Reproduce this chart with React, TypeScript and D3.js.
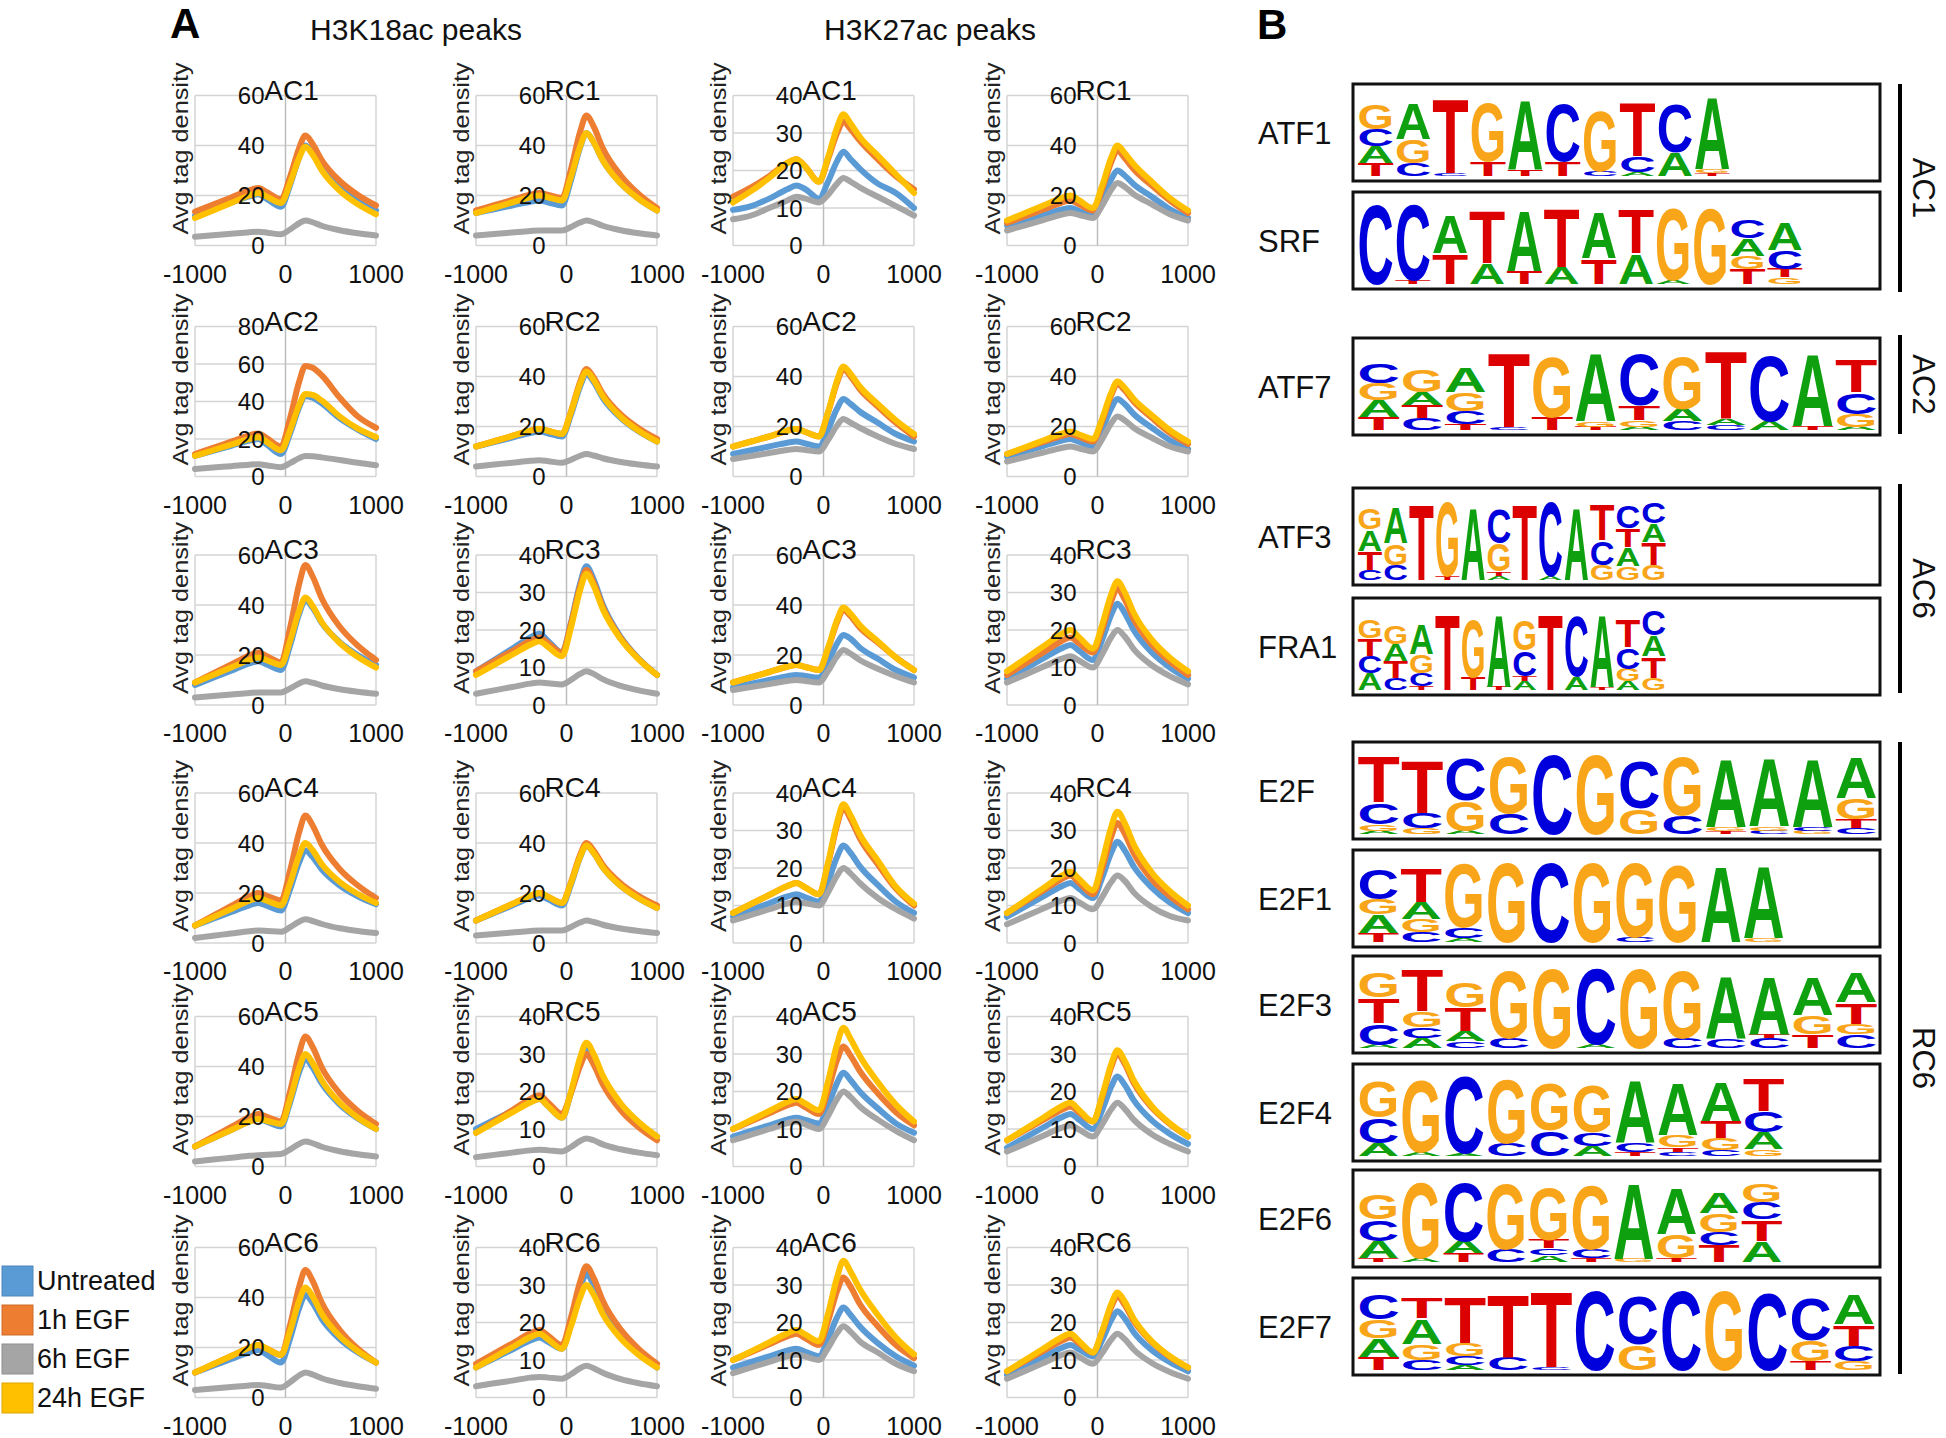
import React from "react";
import * as d3 from "d3";

// ---------------- DATA ----------------
const POSITIONS = [-1000, -800, -600, -400, -300, -200, -50, 50, 150, 220, 300, 400, 600, 800, 1000];
const SERIES_NAMES = ["Untreated", "1h EGF", "6h EGF", "24h EGF"];
const SERIES_COLORS = ["#5B9BD5", "#ED7D31", "#A5A5A5", "#FFC000"];
const X_TICKS = [-1000, 0, 1000];
const HEADERS = ["H3K18ac peaks", "H3K27ac peaks"];

// each panel: [Untreated, 1h EGF, 6h EGF, 24h EGF]
const K18_AC1 = [
  [12, 14.6, 17.1, 19.7, 20.5, 18.5, 15.5, 24.1, 35.1, 40, 36.9, 30.9, 23.1, 17.9, 14],
  [13.5, 16.4, 19.2, 22.1, 23, 21.2, 18.5, 27.4, 38.9, 44, 40.6, 34.2, 25.8, 20.2, 16],
  [3.5, 4.1, 4.7, 5.3, 5.5, 5.1, 4.5, 6.4, 8.9, 10, 9.3, 7.9, 6.1, 4.9, 4],
  [11, 14, 17, 20, 21, 19.4, 17, 24.9, 35, 39.5, 36.3, 30.1, 21.9, 16.5, 12.5],
];
const K18_AC2 = [
  [11, 13.7, 16.4, 19.1, 20, 16.8, 12, 22.9, 36.8, 43, 42, 39, 31, 25, 20],
  [12, 15.3, 18.6, 21.9, 23, 20.2, 16, 31, 50.4, 59, 58, 54, 42, 32, 26],
  [4, 4.8, 5.5, 6.3, 6.5, 5.9, 5, 7.1, 9.8, 11, 10.8, 10.2, 8.8, 7.3, 6],
  [11, 14, 17, 20, 21, 18.2, 14, 24.5, 38, 44, 43.5, 40.5, 32, 25.5, 21],
];
const K18_AC3 = [
  [8, 10.9, 13.7, 16.6, 17.5, 16.1, 14, 23.8, 36.4, 42, 38.9, 32.9, 25.1, 19.9, 16],
  [9, 12.6, 16.2, 19.8, 21, 19.4, 17, 30.7, 48.2, 56, 51.4, 42.7, 31.3, 23.7, 18],
  [3, 3.6, 4.2, 4.8, 5, 5, 5, 6.6, 8.6, 9.5, 8.9, 7.8, 6.3, 5.3, 4.5],
  [9, 12, 15, 18, 19, 17.8, 16, 25.5, 37.6, 43, 39.6, 33.2, 24.8, 19.2, 15],
];
const K18_AC4 = [
  [7, 9.7, 12.4, 15.1, 16, 14.8, 13, 21.4, 32.2, 37, 34.4, 29.5, 23, 18.7, 15.5],
  [7, 10.9, 14.8, 18.7, 20, 18.8, 17, 28.9, 44.2, 51, 47, 39.4, 29.5, 23, 18],
  [2, 2.9, 3.8, 4.7, 5, 4.8, 4.5, 6.3, 8.5, 9.5, 8.8, 7.6, 5.9, 4.8, 4],
  [7, 10.3, 13.6, 16.9, 18, 16.8, 15, 23.8, 35, 40, 37.1, 31.6, 24.4, 19.6, 16],
];
const K18_AC5 = [
  [8, 11.3, 14.6, 17.9, 19, 17.8, 16, 25.5, 37.6, 43, 39.6, 33.2, 24.8, 19.2, 15],
  [8, 11.9, 15.8, 19.7, 21, 19.8, 18, 29.9, 45.2, 52, 47.8, 39.7, 29.2, 22.2, 17],
  [2, 2.8, 3.5, 4.3, 4.5, 4.7, 5, 6.8, 9, 10, 9.3, 7.9, 6.1, 4.9, 4],
  [8, 11.3, 14.6, 17.9, 19, 18.2, 17, 26.8, 39.4, 45, 41.4, 34.5, 25.5, 19.5, 15],
];
const K18_AC6 = [
  [10, 12.7, 15.4, 18.1, 19, 17, 14, 23.5, 35.6, 41, 37.8, 31.5, 23.4, 18, 14],
  [10, 13.3, 16.6, 19.9, 21, 19.4, 17, 28.9, 44.2, 51, 46.6, 38, 27, 19.5, 14],
  [3, 3.6, 4.2, 4.8, 5, 4.6, 4, 6.1, 8.8, 10, 9.2, 7.7, 5.8, 4.5, 3.5],
  [10, 13.3, 16.6, 19.9, 21, 19.4, 17, 26.5, 38.6, 44, 40.4, 33.5, 24.5, 18.5, 14],
];
const K18_RC1 = [
  [13, 14.5, 16, 17.5, 18, 17.2, 16, 26.2, 39.2, 45, 41.3, 34.1, 24.8, 18.6, 14],
  [14, 16.1, 18.2, 20.3, 21, 20.2, 19, 30.6, 45.4, 52, 47.6, 39, 28, 20.5, 15],
  [4, 4.6, 5.2, 5.8, 6, 6, 6, 7.4, 9.2, 10, 9.3, 7.9, 6.1, 4.9, 4],
  [13, 15.1, 17.2, 19.3, 20, 19.2, 18, 27.5, 39.6, 45, 41.3, 34.1, 24.8, 18.6, 14],
];
const K18_RC2 = [
  [12, 13.8, 15.6, 17.4, 18, 17.2, 16, 24.8, 36, 41, 37.8, 31.5, 23.4, 18, 14],
  [12, 14.1, 16.2, 18.3, 19, 18.2, 17, 26.1, 37.8, 43, 39.6, 33.2, 24.8, 19.2, 15],
  [4, 4.8, 5.5, 6.3, 6.5, 6.1, 5.5, 6.7, 8.3, 9, 8.4, 7.3, 5.8, 4.8, 4],
  [12, 14.1, 16.2, 18.3, 19, 18.2, 17, 25.8, 37, 42, 38.6, 32.2, 23.8, 18.2, 14],
];
const K18_RC3 = [
  [9, 12, 15, 18, 19, 17, 14, 22, 32.4, 37, 33.5, 26.8, 18.1, 12.3, 8],
  [9, 11.7, 14.4, 17.1, 18, 16.4, 14, 21.7, 31.6, 36, 32.6, 26.2, 17.8, 12.2, 8],
  [3, 3.9, 4.8, 5.7, 6, 5.8, 5.5, 6.7, 8.3, 9, 8.3, 6.9, 5.1, 3.9, 3],
  [8, 10.7, 13.4, 16.1, 17, 15.4, 13, 20.7, 30.6, 35, 31.8, 25.6, 17.5, 12.1, 8],
];
const K18_RC4 = [
  [9, 12, 15, 18, 19, 17.4, 15, 23.4, 34.2, 39, 36, 30.3, 22.8, 17.8, 14],
  [9, 12.3, 15.6, 18.9, 20, 18.4, 16, 24.4, 35.2, 40, 37, 31.3, 23.8, 18.8, 15],
  [3, 3.6, 4.2, 4.8, 5, 5, 5, 6.4, 8.2, 9, 8.4, 7.3, 5.8, 4.8, 4],
  [9, 12.3, 15.6, 18.9, 20, 18.4, 16, 24.1, 34.4, 39, 36, 30.3, 22.8, 17.8, 14],
];
const K18_RC5 = [
  [10, 12.4, 14.8, 17.2, 18, 16, 13, 19.7, 28.2, 32, 29.1, 23.6, 16.4, 11.6, 8],
  [9, 12, 15, 18, 19, 17, 14, 19.6, 26.8, 30, 27.2, 22, 15, 10.4, 7],
  [2.5, 3.1, 3.7, 4.3, 4.5, 4.3, 4, 5.2, 6.8, 7.5, 7, 5.9, 4.6, 3.7, 3],
  [9, 11.7, 14.4, 17.1, 18, 16, 13, 20, 29, 33, 30, 24.3, 16.8, 11.8, 8],
];
const K18_RC6 = [
  [8, 10.4, 12.8, 15.2, 16, 14.8, 13, 20, 29, 33, 30, 24.3, 16.8, 11.8, 8],
  [9, 11.7, 14.4, 17.1, 18, 16.4, 14, 21.4, 30.8, 35, 31.9, 25.9, 18.1, 12.9, 9],
  [3, 3.8, 4.5, 5.3, 5.5, 5.3, 5, 6.2, 7.8, 8.5, 7.8, 6.6, 4.9, 3.8, 3],
  [8, 10.7, 13.4, 16.1, 17, 15.4, 13, 19, 26.6, 30, 27.4, 22.3, 15.7, 11.3, 8],
];
const K27_AC1 = [
  [9.5, 10.5, 12.5, 15, 16, 15, 12.5, 17, 22.5, 25, 23, 20.5, 16.5, 14, 10],
  [13, 15.5, 18.5, 22, 23, 21, 17, 23, 30, 33, 31, 28, 23, 18.5, 15],
  [7, 8, 10, 12, 13, 12.5, 11.5, 13.5, 16.5, 18, 17, 15.5, 13, 10.5, 8],
  [11.5, 14.5, 18, 22, 23, 21, 17, 23.5, 31.5, 35, 32.5, 29, 24, 19, 14],
];
const K27_AC2 = [
  [9, 10.5, 12, 13.5, 14, 13.2, 12, 18.7, 27.2, 31, 29, 26, 21.5, 17, 14],
  [12, 14, 16, 18.3, 19, 17.8, 16, 25.5, 37.6, 43, 40, 35, 28, 21.5, 16],
  [7, 8.2, 9.4, 10.6, 11, 10.6, 10, 14.6, 20.4, 23, 21.5, 19.5, 16, 13, 11],
  [12, 14, 16, 18.3, 19, 17.8, 16, 25.8, 38.4, 44, 41, 36, 29, 22.5, 17],
];
const K27_AC3 = [
  [7, 8.5, 10, 11.5, 12, 11.6, 11, 17, 24.6, 28, 26.5, 23, 18.5, 14, 11],
  [9, 11.1, 13.2, 15.3, 16, 15.2, 14, 22.4, 33.2, 38, 35.5, 31, 25, 19, 14],
  [6, 7.2, 8.4, 9.6, 10, 9.6, 9, 13.6, 19.4, 22, 20.5, 18, 14.5, 11.5, 9],
  [9, 11.1, 13.2, 15.3, 16, 15.2, 14, 22.8, 34, 39, 36.5, 32, 25.5, 19, 14],
];
const K27_AC4 = [
  [7, 8.8, 10.6, 12.4, 13, 12.2, 11, 16.3, 23, 26, 24, 20.5, 15.5, 11, 8],
  [8, 10.4, 12.8, 15.2, 16, 14.8, 13, 21, 31.4, 36, 33, 28, 21, 14.5, 10],
  [6, 7.5, 9, 10.5, 11, 10.6, 10, 13.5, 18, 20, 18.5, 16, 12, 9, 6.5],
  [8, 10.4, 12.8, 15.2, 16, 14.8, 13, 21.4, 32.2, 37, 34, 29, 22, 15, 10.5],
];
const K27_AC5 = [
  [8, 9.5, 11, 12.5, 13, 12.4, 11.5, 16.2, 22.3, 25, 23, 20, 15.5, 11.5, 9],
  [10, 12.1, 14.2, 16.3, 17, 15.8, 14, 20.3, 28.4, 32, 29.5, 25.5, 19.5, 14.5, 11],
  [7, 8.5, 10, 11.5, 12, 11.2, 10, 13.5, 18, 20, 18.5, 16, 12.5, 9.5, 7],
  [10, 12.4, 14.8, 17.2, 18, 16.8, 15, 22.7, 32.6, 37, 34, 29.5, 22.5, 16.5, 12],
];
const K27_AC6 = [
  [8, 9.5, 11, 12.5, 13, 12.2, 11, 15.6, 21.4, 24, 22, 19, 14.5, 11, 8.5],
  [10, 12.1, 14.2, 16.3, 17, 15.8, 14, 20.3, 28.4, 32, 29.5, 25, 19, 14, 10.5],
  [6.5, 8, 9.5, 11, 11.5, 10.9, 10, 13.2, 17.2, 19, 17.5, 15, 12, 9, 7],
  [10, 12.3, 14.7, 17.1, 18, 16.8, 15, 22.4, 32, 36.5, 33.5, 29, 22, 16, 11.5],
];
const K27_RC1 = [
  [8, 10.1, 12.2, 14.3, 15, 13.8, 12, 18.3, 26.4, 30, 28, 24.5, 19.5, 14.5, 11],
  [9, 11.7, 14.4, 17.1, 18, 16.4, 14, 22.4, 33.2, 38, 35, 30.5, 24, 18, 13],
  [6, 8.1, 10.2, 12.3, 13, 12.2, 11, 15.9, 22.2, 25, 23.5, 20.5, 16.5, 12.5, 10],
  [10, 13, 16, 19, 20, 18, 15, 23.8, 35, 40, 37, 32.5, 25.5, 19, 14],
];
const K27_RC2 = [
  [8, 10.1, 12.2, 14.3, 15, 13.8, 12, 18.7, 27.2, 31, 29, 25, 19.5, 14.5, 11],
  [9, 11.4, 13.8, 16.2, 17, 15.8, 14, 22, 32.4, 37, 34.5, 30, 23.5, 17.5, 13],
  [6, 7.8, 9.6, 11.4, 12, 11.2, 10, 14.9, 21.2, 24, 22.5, 19.5, 15.5, 12, 10],
  [9, 11.7, 14.4, 17.1, 18, 16.8, 15, 23, 33.4, 38, 35.5, 31, 24.5, 18.5, 14],
];
const K27_RC3 = [
  [7, 9.7, 12.4, 15.1, 16, 14.4, 12, 17.3, 24, 27, 24.6, 20, 14, 10, 7],
  [8, 11, 14, 17, 18, 16.4, 14, 20, 27.6, 31, 28.2, 22.9, 16.1, 11.6, 8],
  [6, 8.1, 10.2, 12.3, 13, 11.8, 10, 13.5, 18, 20, 18.3, 14.9, 10.6, 7.7, 5.5],
  [9, 12.3, 15.6, 18.9, 20, 18, 15, 21.3, 29.4, 33, 30.1, 24.6, 17.4, 12.6, 9],
];
const K27_RC4 = [
  [7, 9.7, 12.4, 15.1, 16, 14.4, 12, 17.3, 24, 27, 24.7, 20.4, 14.8, 10.8, 8],
  [8, 11, 14, 17, 18, 16, 13, 19.7, 28.2, 32, 29.2, 24, 17, 12.5, 9],
  [5, 7.1, 9.2, 11.3, 12, 10.8, 9, 12.2, 16.2, 18, 16.6, 13.5, 9.6, 7.2, 6],
  [8, 11.3, 14.6, 17.9, 19, 17, 14, 21.4, 30.8, 35, 32, 26.3, 18.8, 13.8, 10],
];
const K27_RC5 = [
  [5, 7.7, 10.4, 13.1, 14, 12.4, 10, 14.9, 21.2, 24, 21.8, 17.7, 12.3, 8.7, 6],
  [7, 9.7, 12.4, 15.1, 16, 14.4, 12, 18.3, 26.4, 30, 27.4, 22.3, 15.7, 11.3, 8],
  [4, 6.1, 8.2, 10.3, 11, 9.8, 8, 11.2, 15.2, 17, 15.4, 12.5, 8.6, 6, 4],
  [7, 10, 13, 16, 17, 15, 12, 18.7, 27.2, 31, 28.2, 23, 16.1, 11.5, 8],
];
const K27_RC6 = [
  [6, 8.4, 10.8, 13.2, 14, 12.8, 11, 15.2, 20.6, 23, 21.1, 17.4, 12.6, 9.4, 7],
  [7, 9.7, 12.4, 15.1, 16, 14.4, 12, 17.3, 24, 27, 24.7, 20.4, 14.8, 10.8, 8],
  [5, 7.1, 9.2, 11.3, 12, 10.8, 9, 11.8, 15.4, 17, 15.6, 12.8, 9.2, 6.8, 5],
  [7, 10, 13, 16, 17, 15, 12, 17.6, 24.8, 28, 25.6, 21, 15, 11, 8],
];

const PANEL_DATA = [
  [K18_AC1, K18_RC1, K27_AC1, K27_RC1],
  [K18_AC2, K18_RC2, K27_AC2, K27_RC2],
  [K18_AC3, K18_RC3, K27_AC3, K27_RC3],
  [K18_AC4, K18_RC4, K27_AC4, K27_RC4],
  [K18_AC5, K18_RC5, K27_AC5, K27_RC5],
  [K18_AC6, K18_RC6, K27_AC6, K27_RC6],
];
const PANEL_TITLES = [
  ["AC1", "RC1", "AC1", "RC1"],
  ["AC2", "RC2", "AC2", "RC2"],
  ["AC3", "RC3", "AC3", "RC3"],
  ["AC4", "RC4", "AC4", "RC4"],
  ["AC5", "RC5", "AC5", "RC5"],
  ["AC6", "RC6", "AC6", "RC6"],
];
const Y_MAX = [
  [60, 60, 40, 60],
  [80, 60, 60, 60],
  [60, 40, 60, 40],
  [60, 60, 40, 40],
  [60, 40, 40, 40],
  [60, 40, 40, 40],
];

// Motif logos: per position, stacked letters bottom -> top with relative height
type Stack = [string, number][];
const ATF1: Stack[] = [
  [["T", 0.15], ["A", 0.2], ["C", 0.2], ["G", 0.3]],
  [["C", 0.15], ["G", 0.28], ["A", 0.42]],
  [["C", 0.03], ["T", 0.88]],
  [["T", 0.17], ["G", 0.7]],
  [["T", 0.08], ["A", 0.82]],
  [["T", 0.17], ["C", 0.68]],
  [["C", 0.06], ["G", 0.72]],
  [["A", 0.05], ["C", 0.18], ["T", 0.64]],
  [["A", 0.28], ["C", 0.58]],
  [["T", 0.03], ["G", 0.05], ["A", 0.85]],
];
const SRF: Stack[] = [
  [["C", 0.95]],
  [["T", 0.05], ["C", 0.9]],
  [["T", 0.36], ["A", 0.45]],
  [["A", 0.25], ["T", 0.62]],
  [["T", 0.15], ["A", 0.72]],
  [["A", 0.2], ["T", 0.7]],
  [["T", 0.3], ["A", 0.55]],
  [["A", 0.36], ["T", 0.52]],
  [["A", 0.05], ["G", 0.85]],
  [["G", 0.9]],
  [["T", 0.18], ["G", 0.15], ["A", 0.2], ["C", 0.22]],
  [["G", 0.08], ["T", 0.1], ["C", 0.22], ["A", 0.32]],
];
const ATF7: Stack[] = [
  [["T", 0.15], ["A", 0.2], ["G", 0.2], ["C", 0.23]],
  [["C", 0.14], ["T", 0.15], ["A", 0.15], ["G", 0.26]],
  [["T", 0.07], ["C", 0.15], ["G", 0.22], ["A", 0.3]],
  [["C", 0.03], ["T", 0.88]],
  [["T", 0.15], ["G", 0.72]],
  [["T", 0.04], ["G", 0.06], ["A", 0.8]],
  [["A", 0.04], ["G", 0.08], ["T", 0.17], ["C", 0.6]],
  [["C", 0.1], ["A", 0.15], ["G", 0.62]],
  [["C", 0.06], ["A", 0.07], ["T", 0.8]],
  [["A", 0.1], ["C", 0.78]],
  [["T", 0.05], ["A", 0.85]],
  [["A", 0.04], ["G", 0.15], ["C", 0.25], ["T", 0.38]],
];
const ATF3: Stack[] = [
  [["C", 0.12], ["T", 0.22], ["A", 0.25], ["G", 0.25]],
  [["C", 0.18], ["G", 0.25], ["A", 0.42]],
  [["T", 0.9]],
  [["T", 0.05], ["G", 0.88]],
  [["A", 0.85]],
  [["A", 0.05], ["T", 0.05], ["G", 0.33], ["C", 0.4]],
  [["T", 0.9]],
  [["A", 0.05], ["C", 0.88]],
  [["A", 0.85]],
  [["G", 0.18], ["C", 0.28], ["T", 0.42]],
  [["G", 0.16], ["A", 0.22], ["T", 0.22], ["C", 0.26]],
  [["G", 0.18], ["T", 0.26], ["A", 0.22], ["C", 0.25]],
];
const FRA1: Stack[] = [
  [["A", 0.2], ["C", 0.2], ["T", 0.2], ["G", 0.22]],
  [["C", 0.14], ["T", 0.2], ["A", 0.2], ["G", 0.22]],
  [["T", 0.05], ["C", 0.15], ["G", 0.22], ["A", 0.35]],
  [["T", 0.9]],
  [["T", 0.15], ["G", 0.68]],
  [["T", 0.04], ["A", 0.86]],
  [["A", 0.1], ["T", 0.06], ["C", 0.3], ["G", 0.36]],
  [["T", 0.9]],
  [["A", 0.16], ["C", 0.72]],
  [["T", 0.03], ["A", 0.85]],
  [["A", 0.1], ["G", 0.15], ["C", 0.25], ["T", 0.32]],
  [["G", 0.14], ["T", 0.25], ["A", 0.25], ["C", 0.3]],
];
const E2F: Stack[] = [
  [["A", 0.04], ["G", 0.08], ["C", 0.25], ["T", 0.55]],
  [["G", 0.07], ["C", 0.18], ["T", 0.62]],
  [["A", 0.04], ["G", 0.36], ["C", 0.5]],
  [["C", 0.25], ["G", 0.66]],
  [["C", 0.95]],
  [["G", 0.95]],
  [["G", 0.3], ["C", 0.56]],
  [["C", 0.22], ["G", 0.7]],
  [["T", 0.03], ["G", 0.05], ["A", 0.8]],
  [["C", 0.04], ["G", 0.05], ["A", 0.8]],
  [["G", 0.04], ["C", 0.04], ["A", 0.8]],
  [["C", 0.07], ["T", 0.1], ["G", 0.25], ["A", 0.48]],
];
const E2F1: Stack[] = [
  [["T", 0.1], ["A", 0.22], ["G", 0.18], ["C", 0.35]],
  [["C", 0.12], ["G", 0.15], ["A", 0.2], ["T", 0.4]],
  [["A", 0.05], ["C", 0.12], ["G", 0.76]],
  [["G", 0.95]],
  [["C", 0.95]],
  [["G", 0.95]],
  [["C", 0.06], ["G", 0.88]],
  [["G", 0.92]],
  [["A", 0.9]],
  [["G", 0.05], ["A", 0.85]],
];
const E2F3: Stack[] = [
  [["A", 0.04], ["C", 0.25], ["T", 0.3], ["G", 0.3]],
  [["A", 0.12], ["C", 0.13], ["G", 0.18], ["T", 0.5]],
  [["C", 0.08], ["A", 0.12], ["T", 0.28], ["G", 0.3]],
  [["C", 0.12], ["G", 0.8]],
  [["G", 0.95]],
  [["A", 0.05], ["C", 0.9]],
  [["G", 0.95]],
  [["C", 0.12], ["G", 0.8]],
  [["C", 0.1], ["A", 0.75]],
  [["C", 0.12], ["T", 0.04], ["A", 0.68]],
  [["T", 0.16], ["G", 0.22], ["A", 0.45]],
  [["C", 0.16], ["G", 0.12], ["T", 0.25], ["A", 0.35]],
];
const E2F4: Stack[] = [
  [["A", 0.15], ["C", 0.3], ["G", 0.42]],
  [["A", 0.05], ["G", 0.86]],
  [["A", 0.03], ["C", 0.92]],
  [["C", 0.15], ["G", 0.76]],
  [["C", 0.3], ["G", 0.56]],
  [["A", 0.12], ["C", 0.16], ["G", 0.56]],
  [["T", 0.05], ["C", 0.1], ["A", 0.75]],
  [["C", 0.05], ["T", 0.05], ["G", 0.14], ["A", 0.62]],
  [["C", 0.07], ["G", 0.14], ["T", 0.2], ["A", 0.47]],
  [["G", 0.08], ["A", 0.2], ["C", 0.24], ["T", 0.38]],
];
const E2F6: Stack[] = [
  [["T", 0.05], ["A", 0.2], ["C", 0.25], ["G", 0.3]],
  [["A", 0.05], ["G", 0.9]],
  [["T", 0.1], ["A", 0.15], ["C", 0.7]],
  [["C", 0.15], ["G", 0.78]],
  [["A", 0.08], ["C", 0.08], ["T", 0.1], ["G", 0.62]],
  [["T", 0.05], ["C", 0.1], ["G", 0.76]],
  [["G", 0.04], ["A", 0.9]],
  [["T", 0.05], ["G", 0.28], ["A", 0.55]],
  [["T", 0.2], ["C", 0.15], ["G", 0.22], ["A", 0.25]],
  [["A", 0.25], ["T", 0.25], ["C", 0.2], ["G", 0.22]],
];
const E2F7: Stack[] = [
  [["T", 0.15], ["A", 0.22], ["G", 0.22], ["C", 0.3]],
  [["C", 0.12], ["G", 0.18], ["A", 0.3], ["T", 0.25]],
  [["A", 0.06], ["C", 0.1], ["G", 0.15], ["T", 0.55]],
  [["C", 0.15], ["T", 0.75]],
  [["C", 0.03], ["T", 0.9]],
  [["C", 0.95]],
  [["G", 0.3], ["C", 0.58]],
  [["C", 0.95]],
  [["G", 0.95]],
  [["C", 0.92]],
  [["T", 0.1], ["G", 0.25], ["C", 0.5]],
  [["G", 0.1], ["C", 0.18], ["T", 0.25], ["A", 0.35]],
];

const MOTIF_NAMES = ["ATF1", "SRF", "ATF7", "ATF3", "FRA1", "E2F", "E2F1", "E2F3", "E2F4", "E2F6", "E2F7"];
const MOTIF_STACKS = [ATF1, SRF, ATF7, ATF3, FRA1, E2F, E2F1, E2F3, E2F4, E2F6, E2F7];
const GROUP_LABELS = ["AC1", "AC2", "AC6", "RC6"];

// ---------------- LAYOUT / STYLE ----------------
const W = 1946;
const H = 1438;
const FONT = "'Liberation Sans', Arial, Helvetica, sans-serif";
const COL_LEFT = [195, 476, 733, 1007];
const PLOT_W = 181;
const ROW_TOP = [95.5, 326.5, 555, 793, 1016.5, 1247.5];
const PLOT_H = 150;
const GRID_COLOR = "#D4D4D4";
const HEADER_X = [416, 930];

const BOX_X = 1353;
const BOX_W = 527;
const BOX_H = 97;
const BOX_TOPS = [84, 192, 338, 488, 598, 742, 850, 956, 1064, 1170, 1278];
const POS_W = [37.4, 37.2, 43.4, 25.8, 25.8, 43.4, 42.8, 43.4, 42.8, 42.6, 43.2];
const GROUP_SPANS = [[84, 292], [335, 434], [484, 693], [742, 1374]];
const BASE_COLORS: Record<string, string> = { A: "#0FA00F", C: "#0000DD", G: "#F9A51A", T: "#DC0000" };

function Panel({ r, c }: { r: number; c: number }) {
  const left = COL_LEFT[c];
  const top = ROW_TOP[r];
  const x = d3.scaleLinear().domain([-1000, 1000]).range([left, left + PLOT_W]);
  const ymax = Y_MAX[r][c];
  const y = d3.scaleLinear().domain([0, ymax]).range([top + PLOT_H, top]);
  const step = ymax === 40 ? 10 : 20;
  const yTicks = d3.range(0, ymax + 0.001, step);
  const line = d3
    .line<number>()
    .x((_, i) => x(POSITIONS[i]))
    .y((v) => y(v))
    .curve(d3.curveMonotoneX);
  const x0 = x(0);
  return (
    <g>
      {yTicks.map((t) => (
        <line key={"g" + t} x1={left} x2={left + PLOT_W} y1={y(t)} y2={y(t)} stroke={GRID_COLOR} strokeWidth={1.5} />
      ))}
      <line x1={left} x2={left} y1={top} y2={top + PLOT_H} stroke={GRID_COLOR} strokeWidth={1.5} />
      <line x1={left + PLOT_W} x2={left + PLOT_W} y1={top} y2={top + PLOT_H} stroke={GRID_COLOR} strokeWidth={1.5} />
      <line x1={x0} x2={x0} y1={top} y2={top + PLOT_H} stroke="#BDBDBD" strokeWidth={1.5} />
      {PANEL_DATA[r][c].map((s, i) => (
        <path key={i} d={line(s) || ""} fill="none" stroke={SERIES_COLORS[i]} strokeWidth={6} strokeLinejoin="round" strokeLinecap="round" />
      ))}
      {yTicks.map((t) => (
        <text key={"t" + t} x={x0 - 21} y={y(t)} textAnchor="end" dominantBaseline="central" fontSize={24} fill="#111">
          {t}
        </text>
      ))}
      {X_TICKS.map((t) => (
        <text key={"x" + t} x={x(t)} y={top + PLOT_H + 37} textAnchor="middle" fontSize={25} fill="#111">
          {t}
        </text>
      ))}
      <text x={(left + left + PLOT_W) / 2 + 6} y={top + 4} textAnchor="middle" fontSize={28} fill="#111">
        {PANEL_TITLES[r][c]}
      </text>
      <text
        transform={`translate(${left - 7},${top + 53}) rotate(-90)`}
        textAnchor="middle"
        fontSize={22}
        textLength={172}
        lengthAdjust="spacingAndGlyphs"
        fill="#222"
      >
        Avg tag density
      </text>
    </g>
  );
}

function Logo({ m }: { m: number }) {
  const top = BOX_TOPS[m];
  const bottom = top + BOX_H - 5;
  const full = BOX_H - 11;
  const w = POS_W[m];
  const x0 = BOX_X + 4;
  const stacks = MOTIF_STACKS[m];
  const xs = d3.scaleLinear().domain([0, 1]).range([x0, x0 + w]);
  const hs = d3.scaleLinear().domain([0, 1]).range([0, full]);
  const letters: JSX.Element[] = [];
  stacks.forEach((st, p) => {
    let yb = bottom;
    st.forEach(([ch, v], k) => {
      const h = hs(v);
      letters.push(
        <text
          key={p + "-" + k}
          x={0}
          y={0}
          fontSize={100}
          fontWeight="bold"
          textLength={w - 1}
          lengthAdjust="spacingAndGlyphs"
          fill={BASE_COLORS[ch]}
          transform={`translate(${xs(p) + 0.5},${yb}) scale(1,${h / 72})`}
        >
          {ch}
        </text>
      );
      yb -= h;
    });
  });
  return (
    <g>
      <text x={1258} y={top + BOX_H / 2 + 1} dominantBaseline="central" fontSize={31} fill="#111">
        {MOTIF_NAMES[m]}
      </text>
      {letters}
      <rect x={BOX_X} y={top} width={BOX_W} height={BOX_H} fill="none" stroke="#111" strokeWidth={3} />
    </g>
  );
}

export default function App() {
  return (
    <svg
      width={W}
      height={H}
      viewBox={`0 0 ${W} ${H}`}
      style={{ position: "absolute", left: 0, top: 0, background: "#fff" }}
      fontFamily={FONT}
    >
      <rect x={0} y={0} width={W} height={H} fill="#fff" />
      <text x={170} y={38} fontSize={42} fontWeight="bold" fill="#000">A</text>
      <text x={1257} y={39} fontSize={42} fontWeight="bold" fill="#000">B</text>
      {HEADERS.map((h, i) => (
        <text key={h} x={HEADER_X[i]} y={40} textAnchor="middle" fontSize={30} fill="#111">
          {h}
        </text>
      ))}
      {PANEL_DATA.map((row, r) => row.map((_, c) => <Panel key={r + "-" + c} r={r} c={c} />))}
      {SERIES_NAMES.map((s, i) => {
        const cy = 1281 + i * 39;
        return (
          <g key={s}>
            <rect x={2} y={cy - 15} width={31} height={30} fill={SERIES_COLORS[i]} stroke={d3.color(SERIES_COLORS[i])!.darker(0.4).toString()} strokeWidth={1} />
            <text x={37} y={cy} dominantBaseline="central" fontSize={27} fill="#111">
              {s}
            </text>
          </g>
        );
      })}
      {MOTIF_NAMES.map((_, m) => <Logo key={m} m={m} />)}
      {GROUP_LABELS.map((g, i) => {
        const [a, b] = GROUP_SPANS[i];
        return (
          <g key={g}>
            <line x1={1900} x2={1900} y1={a} y2={b} stroke="#000" strokeWidth={4} />
            <text transform={`translate(${1913},${(a + b) / 2}) rotate(90)`} textAnchor="middle" fontSize={31} fill="#111">
              {g}
            </text>
          </g>
        );
      })}
    </svg>
  );
}
